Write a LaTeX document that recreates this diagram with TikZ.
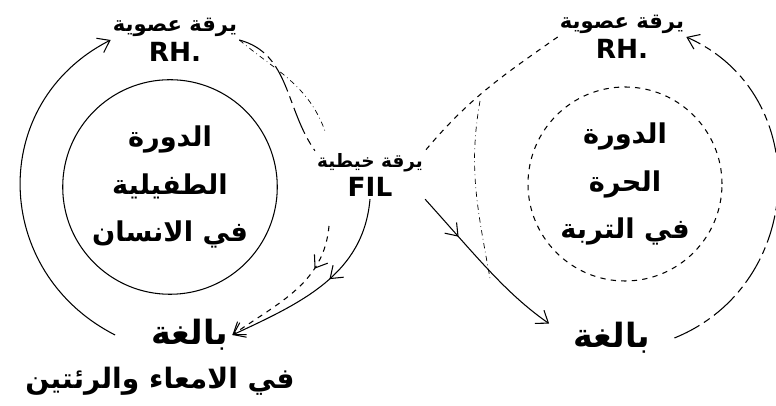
\documentclass[tikz,border=0pt]{standalone}
\usepackage{fontspec}
\setmainfont{DejaVu Sans}
\newfontfamily\arabicfont[Script=Arabic]{DejaVu Sans}
\TeXXeTstate=1
\usetikzlibrary{arrows.meta,decorations.markings}

\tikzset{
  lbl/.style={font=\arabicfont\bfseries\fontsize{12}{17}\selectfont, align=center, inner sep=1pt},
  big/.style={font=\arabicfont\bfseries\fontsize{19}{22}\selectfont, inner sep=2pt},
  cyc/.style={circle, draw, minimum size=3.12cm, align=center,
    font=\arabicfont\bfseries\fontsize{15.5}{27}\selectfont},
  sketchy/.style={dash pattern=on 16pt off 3pt on 4pt off 3pt},
  midarrow/.style={postaction={decorate},
    decoration={markings, mark=at position #1 with {\arrow{>}}}},
}
\newcommand{\latin}[1]{{\rmfamily\bfseries\fontsize{15}{17}\selectfont #1}}

\begin{document}
\begin{tikzpicture}[semithick, >={Straight Barb[length=2.2mm,width=3.2mm]}]
  \useasboundingbox (0,0) rectangle (15.52,8.12);
  % the two cycles
  \node[cyc] (cycL) at (3.4,4.38) {\beginR الدورة\endR\\\beginR الطفيلية\endR\\\beginR في الانسان\endR};
  \node[cyc,dashed,minimum size=3.2cm] (cycR) at (12.5,4.44) {\beginR الدورة\endR\\\beginR الحرة\endR\\\beginR في التربة\endR};
  % larvae
  \node[lbl] (rhL) at (3.5,7.32) {\beginR يرقة عصوية\endR\\\latin{RH.}};
  \node[lbl] (rhR) at (12.44,7.38) {\beginR يرقة عصوية\endR\\\latin{RH.}};
  \node[lbl,font=\arabicfont\bfseries\fontsize{10.5}{17}\selectfont] (fil) at (7.4,4.62) {\beginR يرقة خيطية\endR\\\latin{FIL}};
  % adults
  \node[big] (adultL) at (3.8,1.42) {\beginR بالغة\endR};
  \node[big,font=\arabicfont\bfseries\fontsize{16}{20}\selectfont] (gutL) at (3.2,0.5) {\beginR في الامعاء والرئتين\endR};
  \node[big] (adultR) at (12.24,1.36) {\beginR بالغة\endR};
  \coordinate (forkL) at (6.5,5.5);
  \coordinate (dropL) at (6.58,3.6);
  \coordinate (forkR) at (9.6,6.1);
  \coordinate (dropR) at (9.8,2.55);

  % left loop
  \draw[->] ([xshift=-6.5mm]adultL.west) to[out=153,in=207,looseness=1.2] (rhL.west);
  \draw[sketchy] (rhL.east) to[out=-15,in=125] (fil.north west);
  \draw[thin,dash dot] (rhL.east) to[out=-40,in=110] (forkL);
  \draw[->,midarrow=0.45] (fil.south) to[out=-95,in=25] (adultL.east);
  \draw[->,dashed,midarrow=0.3] (dropL) to[out=-95,in=35] (adultL.east);
  % right loop
  \draw[->,midarrow=0.25,shorten >=5mm] (fil.south east) to[out=-48,in=145] (adultR.west);
  \draw[dashed] (rhR.west) to[out=215,in=50] (fil.north east);
  \draw[thin,dash dot] (forkR) to[out=-100,in=100] (dropR);
  \draw[->,sketchy] ([xshift=4mm]adultR.east) to[out=22,in=-24,looseness=1.2] (rhR.east);
\end{tikzpicture}
\end{document}
